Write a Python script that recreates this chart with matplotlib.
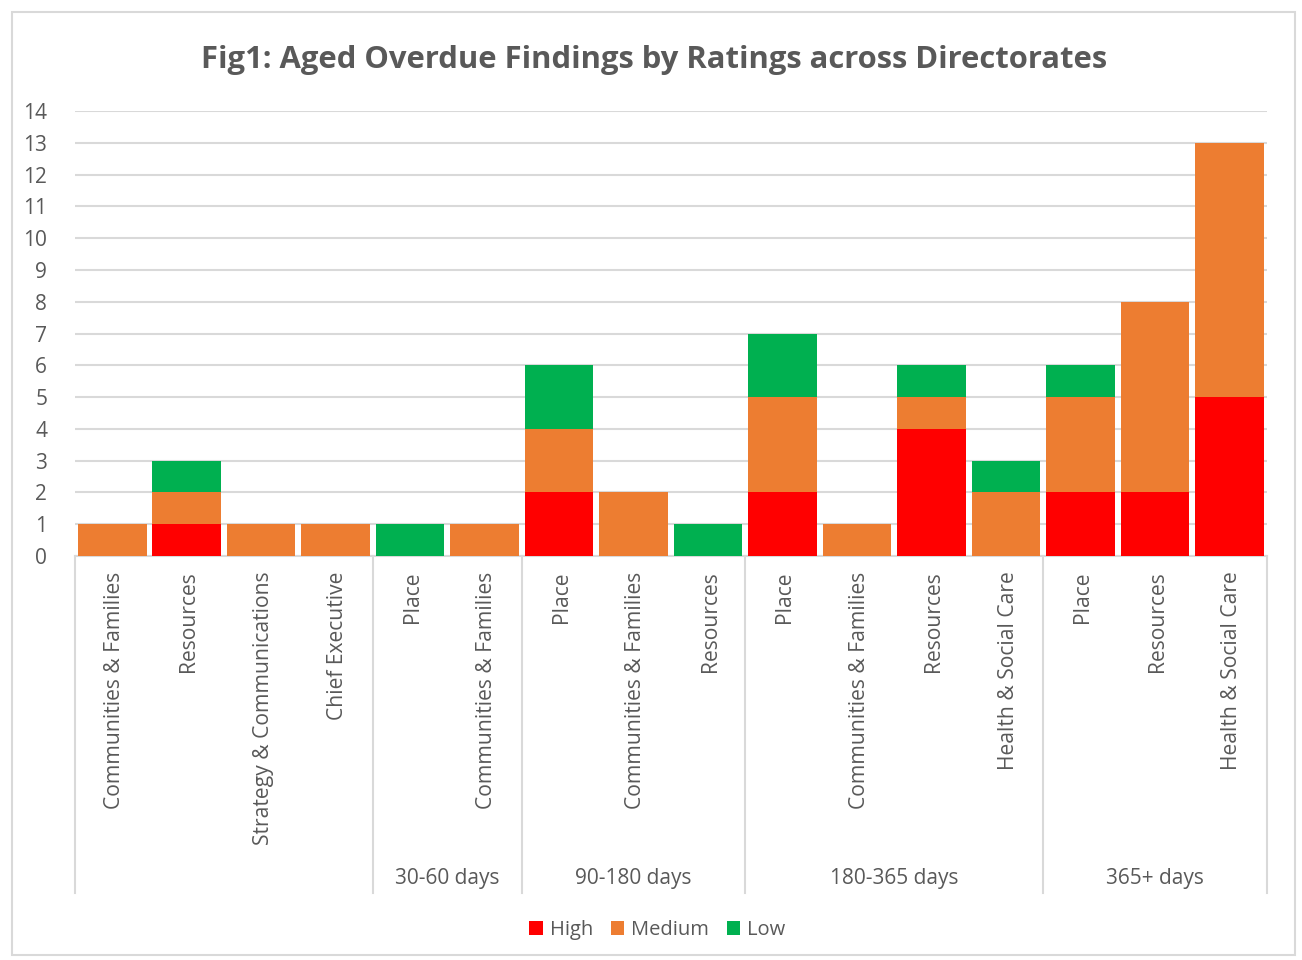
import numpy as np
import matplotlib.pyplot as plt
from matplotlib.patches import Rectangle
from matplotlib.lines import Line2D

# data
directorates = ["Communities & Families", "Resources", "Strategy & Communications", "Chief Executive",
                "Place", "Communities & Families",
                "Place", "Communities & Families", "Resources",
                "Place", "Communities & Families", "Resources", "Health & Social Care",
                "Place", "Resources", "Health & Social Care"]
high = [0, 1, 0, 0, 0, 0, 2, 0, 0, 2, 0, 4, 0, 2, 2, 5]
medium = [1, 1, 1, 1, 0, 1, 2, 2, 0, 3, 1, 1, 2, 3, 6, 8]
low = [0, 1, 0, 0, 1, 0, 2, 0, 1, 2, 0, 1, 1, 1, 0, 0]
age_groups = ["", "30-60 days", "90-180 days", "180-365 days", "365+ days"]
group_sizes = [4, 2, 3, 4, 3]

plt.rcParams['font.family'] = ['Open Sans', 'DejaVu Sans']
txt = '#595959'
grid_c = '#d9d9d9'

fig = plt.figure(figsize=(13.02, 9.6), dpi=100)
ax = fig.add_axes([0.0576, 0.4208, 0.9154, 0.4635])

x = np.arange(len(directorates))
high = np.array(high)
medium = np.array(medium)
low = np.array(low)
w = 0.92
ax.bar(x, high, w, color='#ff0000', label='High', zorder=3)
ax.bar(x, medium, w, bottom=high, color='#ed7d31', label='Medium', zorder=3)
ax.bar(x, low, w, bottom=high + medium, color='#00b050', label='Low', zorder=3)

ax.set_xlim(-0.5, len(directorates) - 0.5)
ax.set_ylim(0, 14)
ax.set_yticks(range(0, 15))
ax.yaxis.grid(True, color=grid_c, linewidth=1.5, zorder=0)
ax.tick_params(axis='y', length=0, labelsize=15, labelcolor=txt, pad=20)
ax.set_xticks([])
for s in ['top', 'right', 'left']:
    ax.spines[s].set_visible(False)
ax.spines['bottom'].set_color(grid_c)
ax.spines['bottom'].set_linewidth(1.5)

# directorate labels
for i, name in enumerate(directorates):
    ax.annotate(name, (i, 0), xycoords='data', xytext=(1.5, -11), textcoords='offset points',
                rotation=90, ha='center', va='top', fontsize=15.2, color=txt)

# group separators and age labels
bounds = np.concatenate([[0], np.cumsum(group_sizes)]) - 0.5
for b in bounds:
    ax.add_line(Line2D([b, b], [0, -0.757], transform=ax.get_xaxis_transform(),
                       color=grid_c, linewidth=1.5, clip_on=False))
for g, lab in enumerate(age_groups):
    c = (bounds[g] + bounds[g + 1]) / 2
    ax.text(c, -0.725, lab, transform=ax.get_xaxis_transform(), ha='center', va='center',
            fontsize=15, color=txt)

fig.text(0.502, 0.937, "Fig1: Aged Overdue Findings by Ratings across Directorates",
         ha='center', va='center', fontsize=22.3, fontweight='bold', color=txt)

fig.legend(loc='center', bbox_to_anchor=(0.505, 0.031), ncol=3, frameon=False,
           fontsize=14.5, labelcolor=txt, handlelength=0.65, handleheight=0.65,
           handletextpad=0.35, columnspacing=0.9)

fig.patches.append(Rectangle((0.009, 0.005), 0.986, 0.982, transform=fig.transFigure,
                             fill=False, edgecolor=grid_c, linewidth=1.5))

fig.savefig("out.png", dpi=100)
